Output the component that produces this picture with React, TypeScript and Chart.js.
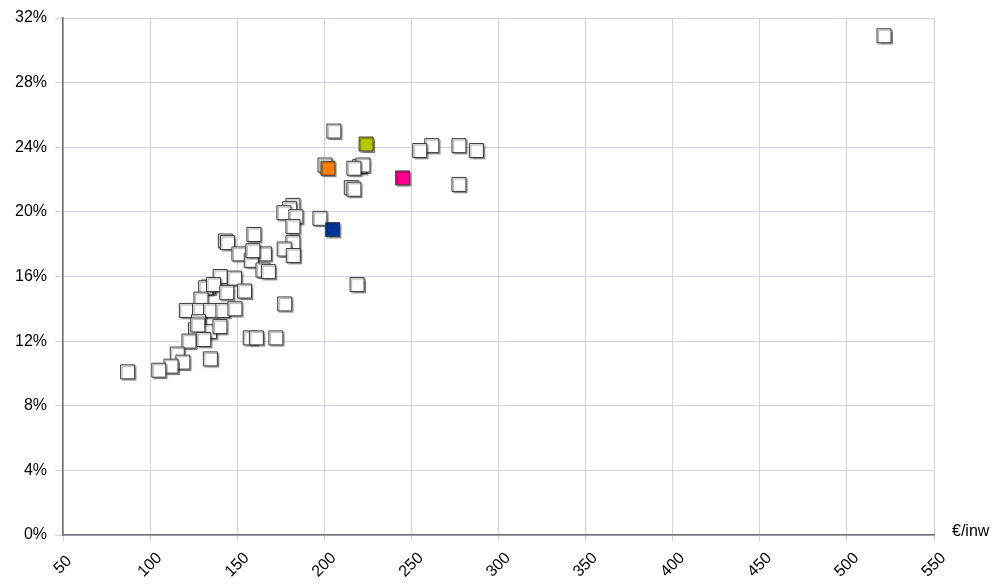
import React, { useEffect, useRef } from 'react';
import { Chart, registerables } from 'chart.js';

Chart.register(...registerables);

// Municipalities: spending per inhabitant (€/inw) vs share (%)
const spendX = [
  205.5, 261.7, 254.8, 277.3, 287.3, 277.3, 200.4, 220.3, 222.2, 217.0,
  215.5, 217.0, 197.5, 218.8, 182.0, 180.1, 176.8, 183.7, 182.0, 182.0,
  177.0, 182.2, 159.6, 143.2, 144.4, 151.0, 165.6, 158.1, 159.0, 164.8,
  167.9, 140.2, 148.5, 133.5, 131.9, 136.4, 144.0, 154.2, 177.3, 129.2,
  120.8, 128.4, 134.7, 141.8, 148.7, 127.8, 134.1, 140.1, 126.1, 127.4,
  157.5, 161.0, 172.2, 122.3, 130.8, 134.6, 115.6, 118.8, 112.0, 105.0,
  87.1, 521.3,
];
const shareY = [
  25.0, 24.1, 23.8, 24.1, 23.8, 21.7, 22.9, 22.8, 22.9, 22.7,
  21.5, 21.4, 19.6, 15.5, 20.4, 20.2, 19.95, 19.7, 19.1, 18.1,
  17.7, 17.3, 18.6, 18.2, 18.1, 17.4, 17.4, 17.0, 17.6, 16.4,
  16.3, 16.0, 15.9, 15.35, 15.3, 15.5, 15.0, 15.1, 14.3, 14.6,
  13.9, 13.9, 13.9, 13.9, 14.0, 13.2, 12.6, 12.9, 12.7, 13.0,
  12.2, 12.2, 12.2, 12.0, 12.1, 10.9, 11.2, 10.7, 10.45, 10.2,
  10.1, 30.9,
];

const highlightX = [224.0, 202.1, 245.0, 204.8];
const highlightY = [24.2, 22.7, 22.1, 18.9];
const highlightColors = ['#b5c800', '#ff7f00', '#ff0090', '#003399'];

const xTickValues = [50, 100, 150, 200, 250, 300, 350, 400, 450, 500, 550];
const xTickLabels = ['50', '100', '150', '200', '250', '300', '350', '400', '450', '500', '550'];
const yTickSuffix = '%';
const xUnitLabel = '€/inw';

const FONT = '"Liberation Sans", Arial, sans-serif';

export default function App() {
  const ref = useRef<HTMLCanvasElement | null>(null);

  useEffect(() => {
    if (!ref.current) return;

    const shadowPlugin = {
      id: 'markerShadow',
      beforeDatasetsDraw(chart: any) {
        const ctx = chart.ctx;
        ctx.save();
        ctx.shadowColor = 'rgba(0,0,0,0.35)';
        ctx.shadowOffsetX = 1.5;
        ctx.shadowOffsetY = 1.5;
        ctx.shadowBlur = 1;
      },
      afterDatasetsDraw(chart: any) {
        chart.ctx.restore();
      },
    };

    const labelPlugin = {
      id: 'xLabels',
      afterDraw(chart: any) {
        const ctx = chart.ctx;
        const xs = chart.scales.x;
        const area = chart.chartArea;
        ctx.save();
        ctx.fillStyle = '#000';
        ctx.font = `16px ${FONT}`;
        ctx.textAlign = 'center';
        ctx.textBaseline = 'middle';
        xTickValues.forEach((v, i) => {
          const px = xs.getPixelForValue(v);
          ctx.save();
          ctx.translate(px, area.bottom + 30);
          ctx.rotate(-Math.PI / 4);
          ctx.fillText(xTickLabels[i], 0, 0);
          ctx.restore();
        });
        ctx.textAlign = 'left';
        ctx.fillText(xUnitLabel, area.right + 18, area.bottom - 3);
        ctx.restore();
      },
    };

    const pointStyleBase = {
      pointStyle: 'rect' as const,
      pointRadius: 9.9,
      pointHoverRadius: 9.9,
      pointBorderWidth: 1,
      pointBorderColor: '#3a3a3a',
      showLine: false,
    };

    const chart = new Chart(ref.current, {
      type: 'scatter',
      data: {
        datasets: [
          {
            label: 'gemeenten',
            data: spendX.map((x, i) => ({ x, y: shareY[i] })),
            pointBackgroundColor: '#ffffff',
            order: 10,
            ...pointStyleBase,
          },
          ...highlightX.map((x, i) => ({
            label: 'h' + i,
            data: [{ x, y: highlightY[i] }],
            pointBackgroundColor: highlightColors[i],
            order: 0,
            ...pointStyleBase,
          })),
        ],
      },
      options: {
        animation: false,
        responsive: false,
        layout: { padding: { top: 18, right: 67, left: 0, bottom: 0 } },
        plugins: {
          legend: { display: false },
          tooltip: { enabled: false },
        },
        scales: {
          x: {
            type: 'linear',
            min: 50,
            max: 550,
            ticks: { display: false, stepSize: 50 },
            grid: { color: '#d3d3e3', lineWidth: 1, tickLength: 6, drawTicks: true },
            border: { color: '#6e6e6e', width: 1.5 },
            afterFit(scale: any) {
              scale.height = 49;
            },
          },
          y: {
            type: 'linear',
            min: 0,
            max: 32,
            ticks: {
              stepSize: 4,
              padding: 8,
              color: '#000',
              font: { size: 16, family: FONT },
              callback: (v: any) => v + yTickSuffix,
            },
            grid: { color: '#d3d3e3', lineWidth: 1, tickLength: 8 },
            border: { color: '#6e6e6e', width: 1.5 },
            afterFit(scale: any) {
              scale.width = 63;
            },
          },
        },
      },
      plugins: [shadowPlugin, labelPlugin],
    });

    return () => chart.destroy();
  }, []);

  return (
    <div style={{ position: 'absolute', left: 0, top: 0, width: 1001, height: 584, background: '#fff' }}>
      <canvas ref={ref} width={1001} height={584} style={{ display: 'block' }} />
    </div>
  );
}
